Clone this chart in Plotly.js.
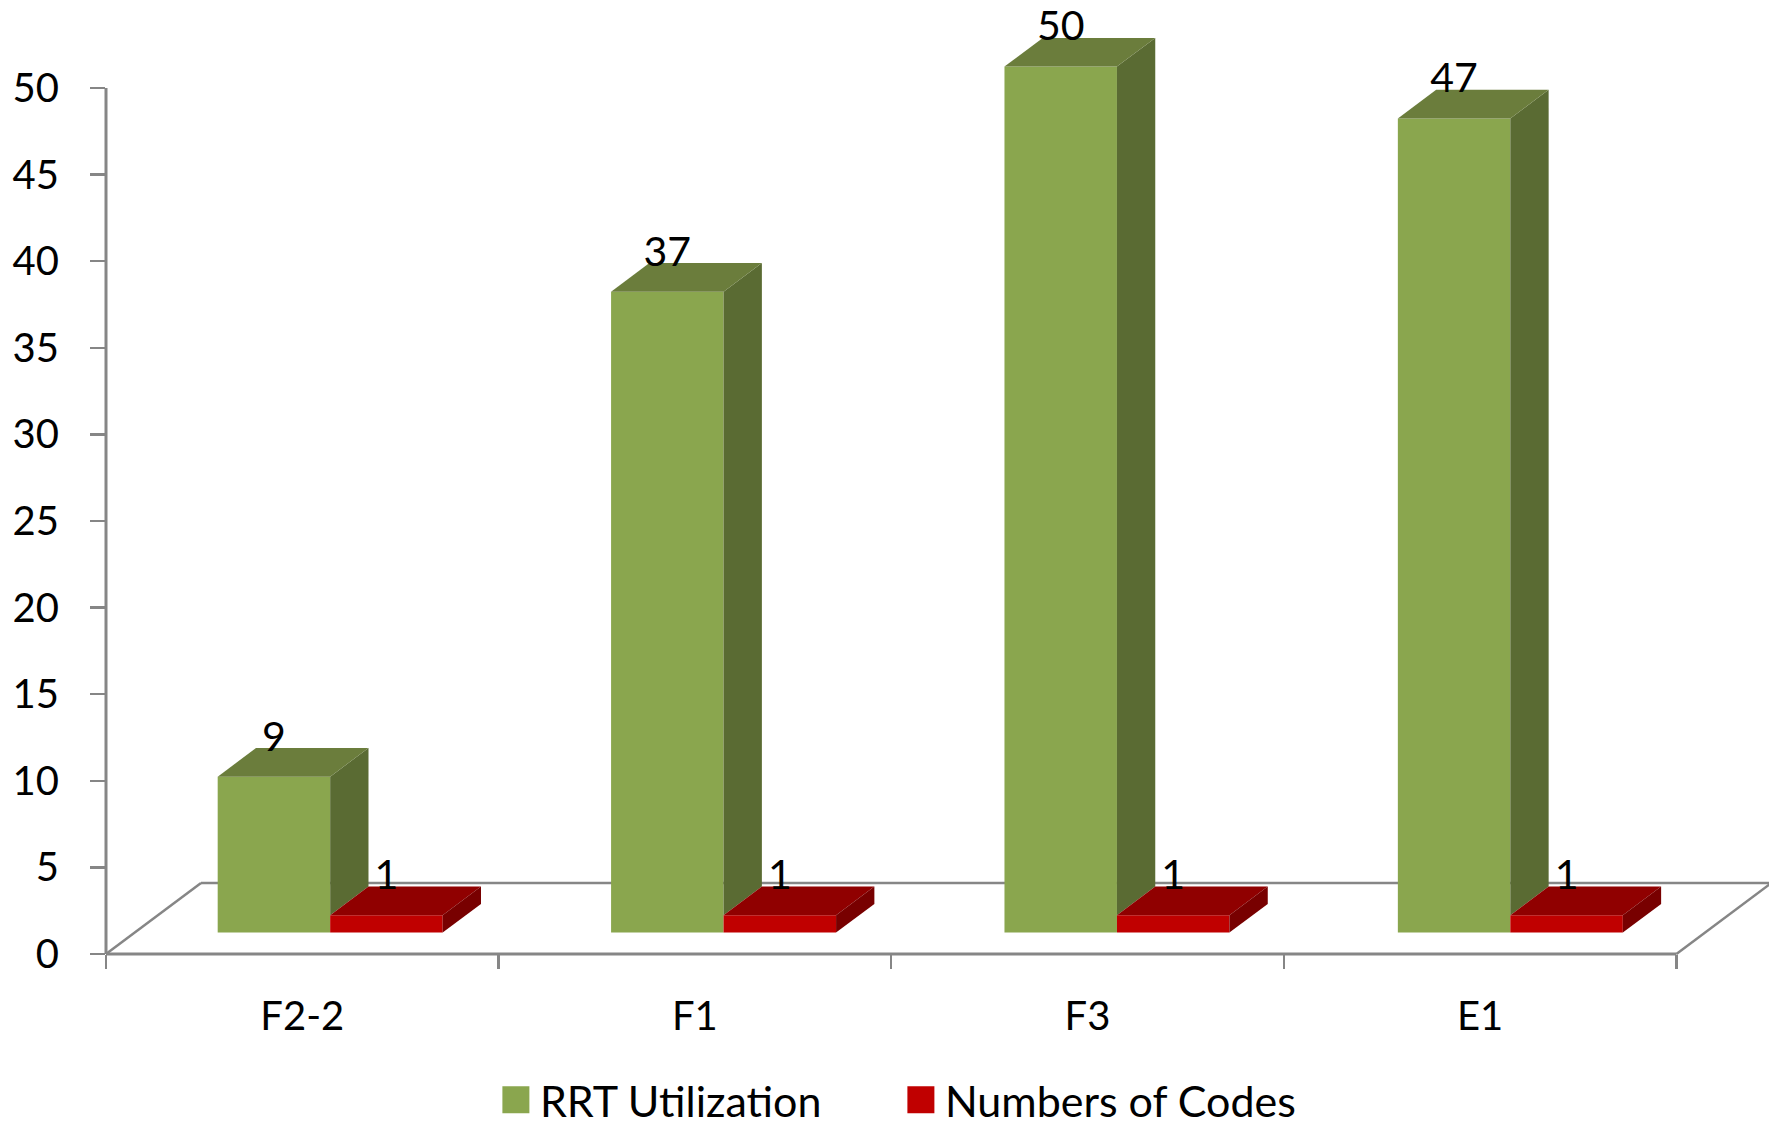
<!DOCTYPE html>
<html><head><meta charset="utf-8">
<script src="https://cdn.plot.ly/plotly-3.0.1.min.js"></script>
<style>html,body{margin:0;padding:0;background:#fff}</style></head>
<body><div id="chart" style="width:1769px;height:1128px"></div>
<script>
const categories = ["F2-2", "F1", "F3", "E1"];
const rrtUtilization = [9, 37, 50, 47];
const numbersOfCodes = [1, 1, 1, 1];
const yTicks = [0, 5, 10, 15, 20, 25, 30, 35, 40, 45, 50];
const FONT = "Lato, Carlito, sans-serif";
const AXIS = "#868686";
const W = 1769, H = 1128, L = 106, B = 173.5;
const xMax = (W - L) / 392.6, yMax = (H - B) / 17.33;
const DX = 0.0976, DY = 1.65, BASE = 1.24, GX = 0.2845, BW = 0.2865, STEP = 1.002;
const FX = 0.242, FY = 4.1, LABEL_GAP = 2.1;

function poly(xs, ys, color) {
  return {type: "scatter", mode: "lines", x: xs.concat(xs[0]), y: ys.concat(ys[0]),
    fill: "toself", fillcolor: color, line: {width: 0, color: color},
    hoverinfo: "skip", showlegend: false, cliponaxis: false};
}
const idx = categories.map((_, i) => i);
const gx0 = idx.map(i => i * STEP + GX), gx1 = gx0.map(v => v + BW), rx1 = gx1.map(v => v + BW);
const traces = [];
traces.push({type: "bar", name: "RRT Utilization", x: gx0.map(v => v + BW / 2), y: rrtUtilization,
  base: idx.map(() => BASE), width: BW, marker: {color: "#8AA64E", line: {width: 0}}});
traces.push({type: "bar", name: "Numbers of Codes", x: gx1.map(v => v + BW / 2), y: numbersOfCodes,
  base: idx.map(() => BASE), width: BW, marker: {color: "#C00000", line: {width: 0}}});
idx.forEach(i => {
  const top = BASE + rrtUtilization[i], rt = BASE + numbersOfCodes[i];
  traces.push(poly([gx1[i], gx1[i] + DX, gx1[i] + DX, gx1[i]], [top, top + DY, rt + DY, rt], "#5A6B33"));
  traces.push(poly([gx0[i], gx1[i], gx1[i] + DX, gx0[i] + DX], [top, top, top + DY, top + DY], "#6B7D3C"));
  traces.push(poly([gx1[i], rx1[i], rx1[i] + DX, gx1[i] + DX], [rt, rt, rt + DY, rt + DY], "#900000"));
  traces.push(poly([rx1[i], rx1[i] + DX, rx1[i] + DX, rx1[i]], [BASE, BASE + DY, rt + DY, rt], "#780000"));
});
traces.push({type: "scatter", mode: "text", x: gx0.map(v => v + BW / 2),
  y: rrtUtilization.map(v => v + BASE + LABEL_GAP), text: rrtUtilization.map(String),
  textposition: "middle center", textfont: {family: FONT, size: 41, color: "#000"},
  hoverinfo: "skip", showlegend: false, cliponaxis: false});
traces.push({type: "scatter", mode: "text", x: gx1.map(v => v + BW / 2),
  y: numbersOfCodes.map(v => v + BASE + LABEL_GAP), text: numbersOfCodes.map(String),
  textposition: "middle center", textfont: {family: FONT, size: 41, color: "#000"},
  hoverinfo: "skip", showlegend: false, cliponaxis: false});

function seg(x0, y0, x1, y1, w) {
  return {type: "line", xref: "paper", yref: "paper", x0: x0 / xMax, y0: y0 / yMax, x1: x1 / xMax, y1: y1 / yMax,
    layer: "below", line: {color: AXIS, width: w}};
}
const shapes = [
  seg(0, 0, 0, 50, 3), seg(0, 0, 4, 0, 3),
  seg(0, 0, FX, FY, 2.5), seg(FX, FY, 4 + FX, FY, 2.5), seg(4, 0, 4 + FX, FY, 2.5)
];
const layout = {
  width: W, height: H, margin: {l: L, r: 0, t: 0, b: B, autoexpand: false}, paper_bgcolor: "#fff", plot_bgcolor: "#fff",
  barmode: "overlay", shapes: shapes, hovermode: false,
  font: {family: FONT, color: "#000"},
  xaxis: {range: [0, xMax], showgrid: false, zeroline: false, showline: false, tickmode: "array",
    tickvals: idx.map(i => i + 0.5), ticktext: categories, ticks: "", ticklabelstandoff: 35,
    tickfont: {family: FONT, size: 40, color: "#000"},
    minor: {tickmode: "array", tickvals: [0, 1, 2, 3, 4], ticks: "outside", ticklen: 14, tickwidth: 2.5, tickcolor: AXIS, showgrid: false}},
  yaxis: {range: [0, yMax], showgrid: false, zeroline: false, showline: false, tickmode: "array",
    tickvals: yTicks, ticks: "outside", ticklen: 15, tickwidth: 2.5, tickcolor: AXIS, ticklabelstandoff: 23,
    tickfont: {family: FONT, size: 40, color: "#000"}},
  showlegend: true,
  legend: {orientation: "h", x: 419 / W, xanchor: "left", y: -146 / (H - B), yanchor: "middle", yref: "paper",
    font: {family: FONT, size: 43, color: "#000"}, entrywidth: 360, entrywidthmode: "pixels",
    traceorder: "normal", itemclick: false, itemdoubleclick: false, bgcolor: "rgba(0,0,0,0)"}
};
Plotly.newPlot("chart", traces, layout, {displayModeBar: false, staticPlot: true}).then(gd => {
  gd.querySelectorAll(".legend .legendpoints path").forEach(p => p.setAttribute("d", "M9.5,13.5H-17.5V-13.5H9.5Z"));
});
</script></body></html>
